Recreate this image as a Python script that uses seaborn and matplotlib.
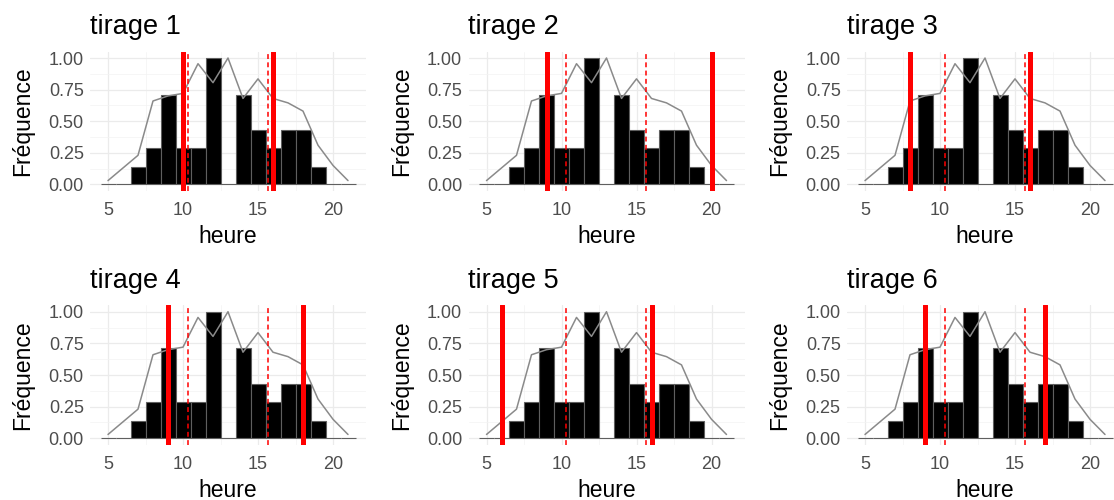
import matplotlib
matplotlib.use('Agg')
import matplotlib.pyplot as plt
import seaborn as sns

# valeurs
heures = [5, 6, 7, 8, 9, 10, 11, 12, 13, 14, 15, 16, 17, 18, 19, 20, 21]
frequence = [0, 0, 0.14, 0.29, 0.71, 0.29, 0.29, 1.00, 0, 0.71, 0.43, 0.29, 0.43, 0.43, 0.14, 0, 0]
courbe = [0.03, 0.13, 0.23, 0.66, 0.70, 0.72, 0.955, 0.805, 1.00, 0.68, 0.835, 0.68, 0.645, 0.58, 0.31, 0.15, 0.03]
ref_bas, ref_haut = 10.33, 15.65
tirage_bas = [10, 9, 8, 9, 6, 9]
tirage_haut = [16, 20, 16, 18, 16, 17]
titres = ['tirage 1', 'tirage 2', 'tirage 3', 'tirage 4', 'tirage 5', 'tirage 6']

sns.set_style('whitegrid')
plt.rcParams['font.family'] = ['Liberation Sans', 'DejaVu Sans']

W, H = 1114, 500
fig = plt.figure(figsize=(W / 100, H / 100), dpi=100)

lefts = [90, 468.5, 847]
rows = [(51.7, 190.7), (305.4, 444.6)]
aw = 276

for i in range(6):
    top, bot = rows[i // 3]
    left = lefts[i % 3]
    ax = fig.add_axes([left / W, 1 - bot / H, aw / W, (bot - top) / H])

    sns.histplot(x=heures, weights=frequence, discrete=True, ax=ax, color='black',
                 edgecolor='#5f5f5f', linewidth=0.8, alpha=1, zorder=2)
    sns.lineplot(x=heures, y=courbe, ax=ax, color='#8a8a8a', lw=1.1, zorder=3)
    for v in (ref_bas, ref_haut):
        ax.axvline(v, color='red', lw=1.1, dashes=(3.2, 2.2), zorder=4)
    for v in (tirage_bas[i], tirage_haut[i]):
        ax.axvline(v, color='red', lw=3.6, zorder=5)

    ax.set_xlim(3.8, 22.2)
    ax.set_ylim(-0.05, 1.05)
    ax.set_xticks([5, 10, 15, 20])
    ax.set_xticks([7.5, 12.5, 17.5], minor=True)
    ax.set_yticks([0, 0.25, 0.5, 0.75, 1.0])
    ax.set_yticklabels(['0.00', '0.25', '0.50', '0.75', '1.00'])
    ax.set_yticks([0.125, 0.375, 0.625, 0.875], minor=True)
    ax.grid(which='major', color='#EBEBEB', lw=0.9)
    ax.grid(which='minor', color='#F3F3F3', lw=0.5)
    ax.set_axisbelow(True)
    for s in ax.spines.values():
        s.set_visible(False)
    ax.tick_params(axis='x', which='both', length=0, pad=8, labelsize=13, labelcolor='#4D4D4D')
    ax.tick_params(axis='y', which='both', length=0, pad=4.5, labelsize=13, labelcolor='#4D4D4D')

    ax.set_xlabel('heure', fontsize=16.5, color='black')
    ax.xaxis.set_label_coords(0.5, -0.378)
    ax.xaxis.label.set_va('baseline')
    ax.set_ylabel('Fréquence', fontsize=16.5, color='black')
    ax.yaxis.set_label_coords(-0.243, 0.5)
    ax.yaxis.label.set_va('center')

    ax.text(0, 1 + 17.5 / (bot - top), titres[i], transform=ax.transAxes,
            ha='left', va='baseline', fontsize=19.5, color='black')

fig.savefig('out.png', dpi=100)
